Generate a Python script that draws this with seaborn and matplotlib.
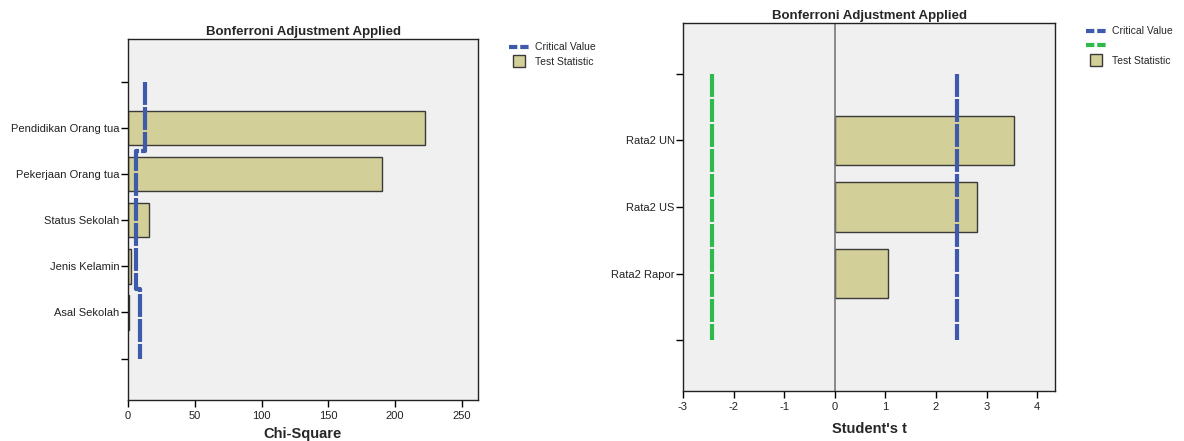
import matplotlib
matplotlib.use("Agg")
import matplotlib.pyplot as plt
import seaborn as sns
import numpy as np
import pandas as pd
from matplotlib.lines import Line2D

# Left chart data (Chi-Square)
chi_categories = ["Pendidikan Orang tua", "Pekerjaan Orang tua", "Status Sekolah",
                  "Jenis Kelamin", "Asal Sekolah"]
chi_values = [222.7, 190.2, 16.0, 2.0, 0.6]
chi_critical = [12.8, 6.0, 6.0, 6.0, 9.0]

# Right chart data (Student's t)
t_categories = ["Rata2 UN", "Rata2 US", "Rata2 Rapor"]
t_values = [3.54, 2.80, 1.05]
t_critical_upper = 2.42
t_critical_lower = -2.42

bar_fill = "#D3CF98"
bar_edge = "#3A3A3A"
blue = "#3D5AAB"
green = "#2EBA4A"
bg = "#F0F0F0"

sns.set_theme(style="white")
plt.rcParams["font.family"] = ["Liberation Sans", "DejaVu Sans"]
plt.rcParams["axes.unicode_minus"] = False

fig = plt.figure(figsize=(11.84, 4.41), dpi=100)
ax1 = fig.add_axes([128 / 1184, 1 - 400 / 441, 350 / 1184, (400 - 39) / 441])
ax2 = fig.add_axes([683 / 1184, 1 - 391 / 441, 372 / 1184, (391 - 23) / 441])

df_chi = pd.DataFrame({"cat": chi_categories, "val": chi_values})
df_t = pd.DataFrame({"cat": t_categories, "val": t_values})


def style_axes(ax):
    ax.set_facecolor(bg)
    for s in ax.spines.values():
        s.set_color("#222222")
        s.set_linewidth(1.0)
    ax.tick_params(axis="both", which="both", direction="out", length=5,
                   width=1, color="black", labelsize=8, pad=1, left=True, bottom=True,
                   labelcolor="#222222")
    ax.tick_params(axis="x", pad=3)
    ax.set_ylabel("")
    ax.set_title("Bonferroni Adjustment Applied", fontsize=9.5, fontweight="bold", pad=3)


# ---- Left chart ----
sns.barplot(data=df_chi, x="val", y="cat", orient="h", color=bar_fill,
            edgecolor=bar_edge, linewidth=1, width=0.75, saturation=1, ax=ax1)
n = len(chi_categories)
# step line for critical values
ys, xs = [], []
for i, c in enumerate(chi_critical):
    lo = -1 if i == 0 else i - 0.5
    hi = n if i == n - 1 else i + 0.5
    ys += [lo, hi]
    xs += [c, c]
ax1.plot(xs, ys, color=blue, lw=3, dashes=(5.5, 0.5), solid_capstyle="butt")
ax1.set_yticks(range(-1, n + 1))
ax1.set_yticklabels([""] + chi_categories + [""])
ax1.set_ylim(n + 0.9, -1.93)
ax1.set_xlim(0, 262)
ax1.set_xticks([0, 50, 100, 150, 200, 250])
style_axes(ax1)
ax1.set_xlabel("Chi-Square", fontsize=10.5, fontweight="bold", labelpad=4)

# ---- Right chart ----
sns.barplot(data=df_t, x="val", y="cat", orient="h", color=bar_fill,
            edgecolor=bar_edge, linewidth=1, width=0.74, saturation=1, ax=ax2)
m = len(t_categories)
ax2.axvline(0, color="#777777", lw=1.2, zorder=1)
ax2.vlines(t_critical_upper, -1, m, color=blue, lw=3, linestyles=(0, (5.5, 0.5)), zorder=3)
ax2.vlines(t_critical_lower, -1, m, color=green, lw=3, linestyles=(0, (5.5, 0.5)), zorder=3)
ax2.set_yticks(range(-1, m + 1))
ax2.set_yticklabels([""] + t_categories + [""])
ax2.set_ylim(m + 0.76, -1.76)
ax2.set_xlim(-3, 4.35)
ax2.set_xticks(range(-3, 5))
style_axes(ax2)
ax2.set_xlabel("Student's t", fontsize=10.5, fontweight="bold", labelpad=7)

# ---- Legends ----
crit_blue = Line2D([], [], color=blue, lw=3, dashes=(2, 0.7))
crit_green = Line2D([], [], color=green, lw=3, dashes=(2, 0.7))
test_box = Line2D([], [], marker="s", markersize=8, markerfacecolor=bar_fill,
                  markeredgecolor=bar_edge, markeredgewidth=1, linestyle="None")

fig.legend([crit_blue, test_box], ["Critical Value", "Test Statistic"],
           loc="upper left", bbox_to_anchor=(505 / 1184, 1 - 38 / 441),
           frameon=False, fontsize=7.5, handlelength=1.9, handletextpad=0.6,
           labelspacing=0.45, borderaxespad=0)
fig.legend([crit_blue, crit_green, test_box], ["Critical Value", "", "Test Statistic"],
           loc="upper left", bbox_to_anchor=(1082 / 1184, 1 - 22 / 441),
           frameon=False, fontsize=7.5, handlelength=1.9, handletextpad=0.6,
           labelspacing=0.45, borderaxespad=0)

fig.savefig("out.png", dpi=100)
